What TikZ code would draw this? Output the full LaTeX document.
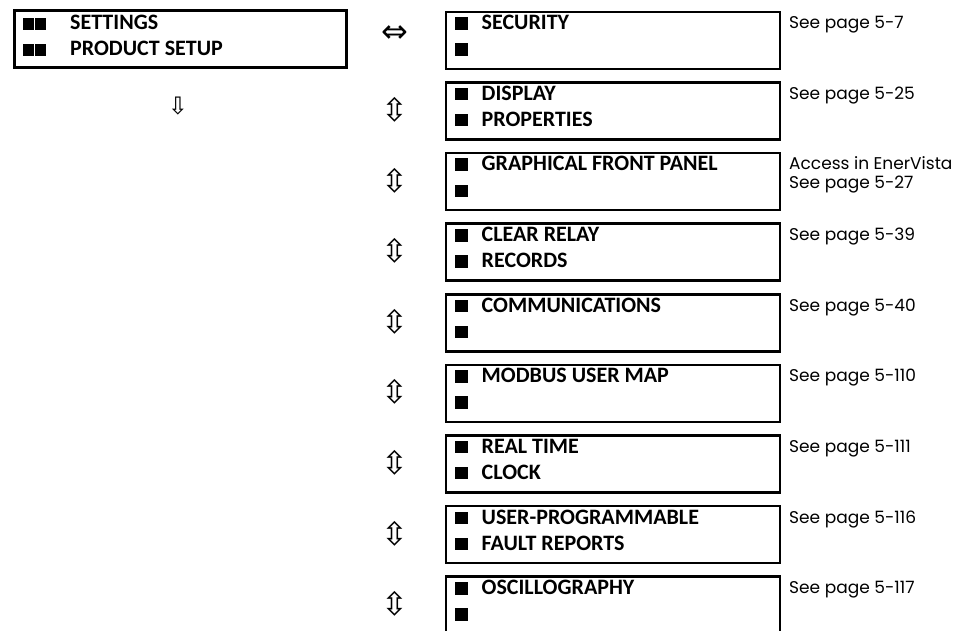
\documentclass[tikz,border=0pt]{standalone}
\usepackage{fontspec}
\setmainfont{Carlito}
\newfontfamily\pagefont{Poppins}
\newfontfamily\arrowfont{DejaVu Sans}
\newcommand\blk{\rule{12.5pt}{12.5pt}}
\newcommand\lblk{\rule{11pt}{12pt}}
\begin{document}
\begin{tikzpicture}[x=1pt,y=-1pt,
  menubox/.style={draw, line width=2.6pt, rectangle, minimum width=334pt,
    minimum height=57pt, anchor=north west, inner sep=0pt},
  boxtext/.style={anchor=base west, inner sep=0pt, font=\bfseries\fontsize{22}{26}\selectfont},
  pagetext/.style={anchor=base west, inner sep=0pt, font=\pagefont\fontsize{17}{20}\selectfont},
  arrowsym/.style={inner sep=0pt, font=\arrowfont\fontsize{32}{32}\selectfont}]
\useasboundingbox (0,0) rectangle (974,631);
\clip (0,0) rectangle (974,631);

% main menu box
\node[menubox, minimum width=332pt] (main) at (13.3,9.3) {};
\node[boxtext] (m1) at (23,30) {\lblk\hspace{1pt}\lblk\hspace{24pt}SETTINGS};
\node[boxtext] (m2) at (23,56) {\lblk\hspace{1pt}\lblk\hspace{24pt}PRODUCT SETUP};
\node[arrowsym, font=\arrowfont\fontsize{24}{24}\selectfont] (down) at (178,106) {⇩};

\foreach \i/\la/\lb/\pa in {
  0/SECURITY//See page 5-7,
  1/DISPLAY/PROPERTIES/See page 5-25,
  2/GRAPHICAL FRONT PANEL//Access in EnerVista,
  3/CLEAR RELAY/RECORDS/See page 5-39,
  4/COMMUNICATIONS//See page 5-40,
  5/MODBUS USER MAP//See page 5-110,
  6/REAL TIME/CLOCK/See page 5-111,
  7/USER-PROGRAMMABLE/FAULT REPORTS/See page 5-116,
  8/OSCILLOGRAPHY//See page 5-117}{
  \pgfmathsetmacro\top{9.3+70.6*\i}
  \node[menubox] (box\i) at (444.6,\top+1.3) {};
  \node[boxtext] (la\i) at (455,\top+20.5) {\blk\hspace{14pt}\la};
  \node[boxtext] (lb\i) at (455,\top+46.5) {\blk\hspace{14pt}\lb};
  \node[pagetext] (pa\i) at (789,\top+19.5) {\pa};
  \ifnum\i>0
    \node[arrowsym] (ud\i) at (395,\top+30) {⇳};
  \fi
}
\node[pagetext] (pb2) at ([yshift=-19pt]pa2.base west) {See page 5-27};
\node[arrowsym] (lr) at (395,34) {⇔};
\end{tikzpicture}
\end{document}
